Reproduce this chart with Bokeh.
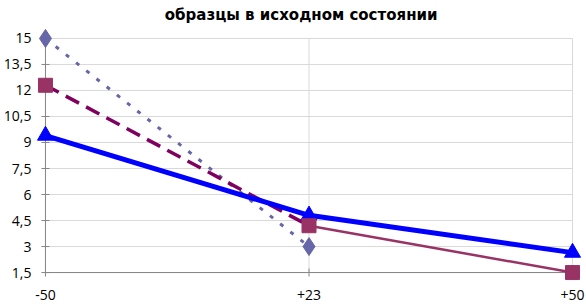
import math
from bokeh.plotting import figure
from bokeh.models import Range1d, FixedTicker
from bokeh.embed import file_html
from bokeh.resources import INLINE

categories = ["-50", "+23", "+50"]
x_pos = [0, 1, 2]
series_diamond = [15.0, 3.0]
series_square = [12.3, 4.2, 1.5]
series_triangle = [9.4, 4.8, 2.65]
y_ticks = [1.5, 3, 4.5, 6, 7.5, 9, 10.5, 12, 13.5, 15]
y_tick_labels = ["1,5", "3", "4,5", "6", "7,5", "9", "10,5", "12", "13,5", "15"]

FONT = "Open Sans"

# padding (in data units) so that edge markers are not clipped
pad_x = 12 / 264.0
pad_y = 12 / (235 / 13.5)

p = figure(width=586, height=304, output_backend="svg", toolbar_location=None,
           x_range=Range1d(x_pos[0] - pad_x, x_pos[-1] + pad_x),
           y_range=Range1d(y_ticks[0] - pad_y, y_ticks[-1] + pad_y),
           min_border_left=32, min_border_right=2, min_border_top=25, min_border_bottom=20)

p.title.text = "образцы  в  исходном  состоянии"
p.title.align = "center"
p.title.text_font = "DejaVu Sans"
p.title.text_font_size = "15px"
p.title.text_font_style = "bold"
p.title.text_color = "#000000"
p.title.offset = 0
p.title.standoff = 6

p.outline_line_color = None
p.background_fill_color = "white"
p.xgrid.grid_line_color = None
p.ygrid.grid_line_color = None

p.xaxis.ticker = FixedTicker(ticks=x_pos)
p.xaxis.major_label_overrides = {x: c for x, c in zip(x_pos, categories)}
p.yaxis.ticker = FixedTicker(ticks=y_ticks)
p.yaxis.major_label_overrides = {t: l for t, l in zip(y_ticks, y_tick_labels)}

for ax in (p.xaxis, p.yaxis):
    ax.axis_line_color = None
    ax.major_tick_line_color = None
    ax.major_tick_out = 0
    ax.major_tick_in = 0
    ax.minor_tick_line_color = None
    ax.major_label_text_font = FONT
    ax.major_label_text_font_size = "14px"
    ax.major_label_text_color = "#000000"
p.yaxis.major_label_standoff = 2
p.xaxis.major_label_standoff = 5

# gridlines
n_y = len(y_ticks)
p.segment(x0=[x_pos[0]] * n_y, x1=[x_pos[-1]] * n_y, y0=y_ticks, y1=y_ticks,
          line_color="#d9d9d9", line_width=1)
n_x = len(x_pos)
p.segment(x0=x_pos, x1=x_pos, y0=[y_ticks[0]] * n_x, y1=[y_ticks[-1]] * n_x,
          line_color="#d9d9d9", line_width=1)
# axis lines
p.segment(x0=[x_pos[0]], x1=[x_pos[0]], y0=[y_ticks[0]], y1=[y_ticks[-1]], line_color="#868686", line_width=1)
p.segment(x0=[x_pos[0]], x1=[x_pos[-1]], y0=[y_ticks[0]], y1=[y_ticks[0]], line_color="#868686", line_width=1)
# tick marks
p.scatter([x_pos[0]] * n_y, y_ticks, marker="dash", size=8, line_color="#868686", line_width=1)
p.scatter(x_pos, [y_ticks[0]] * n_x, marker="dash", angle=math.pi / 2, size=8, line_color="#868686", line_width=1)

# dotted slate series with diamonds
p.line(x_pos[:2], series_diamond, line_color="#6666a8", line_width=3, line_dash="4 9")
p.scatter(x_pos[:2], series_diamond, marker="diamond", size=18, fill_color="#6666a8", line_color="#6666a8")

# square series: dashed first segment, solid second
p.line(x_pos[:2], series_square[:2], line_color="#800060", line_width=3.5, line_dash="15 8")
p.line(x_pos[1:], series_square[1:], line_color="#993366", line_width=2.5)

# blue triangle series
p.line(x_pos, series_triangle, line_color="#0000ff", line_width=5)
p.scatter(x_pos, series_triangle, marker="triangle", size=16, fill_color="#0000ff", line_color="#0000ff")

p.scatter(x_pos, series_square, marker="square", size=14, fill_color="#993366", line_color="#993366")

open("out.html", "w").write(file_html(p, INLINE))
